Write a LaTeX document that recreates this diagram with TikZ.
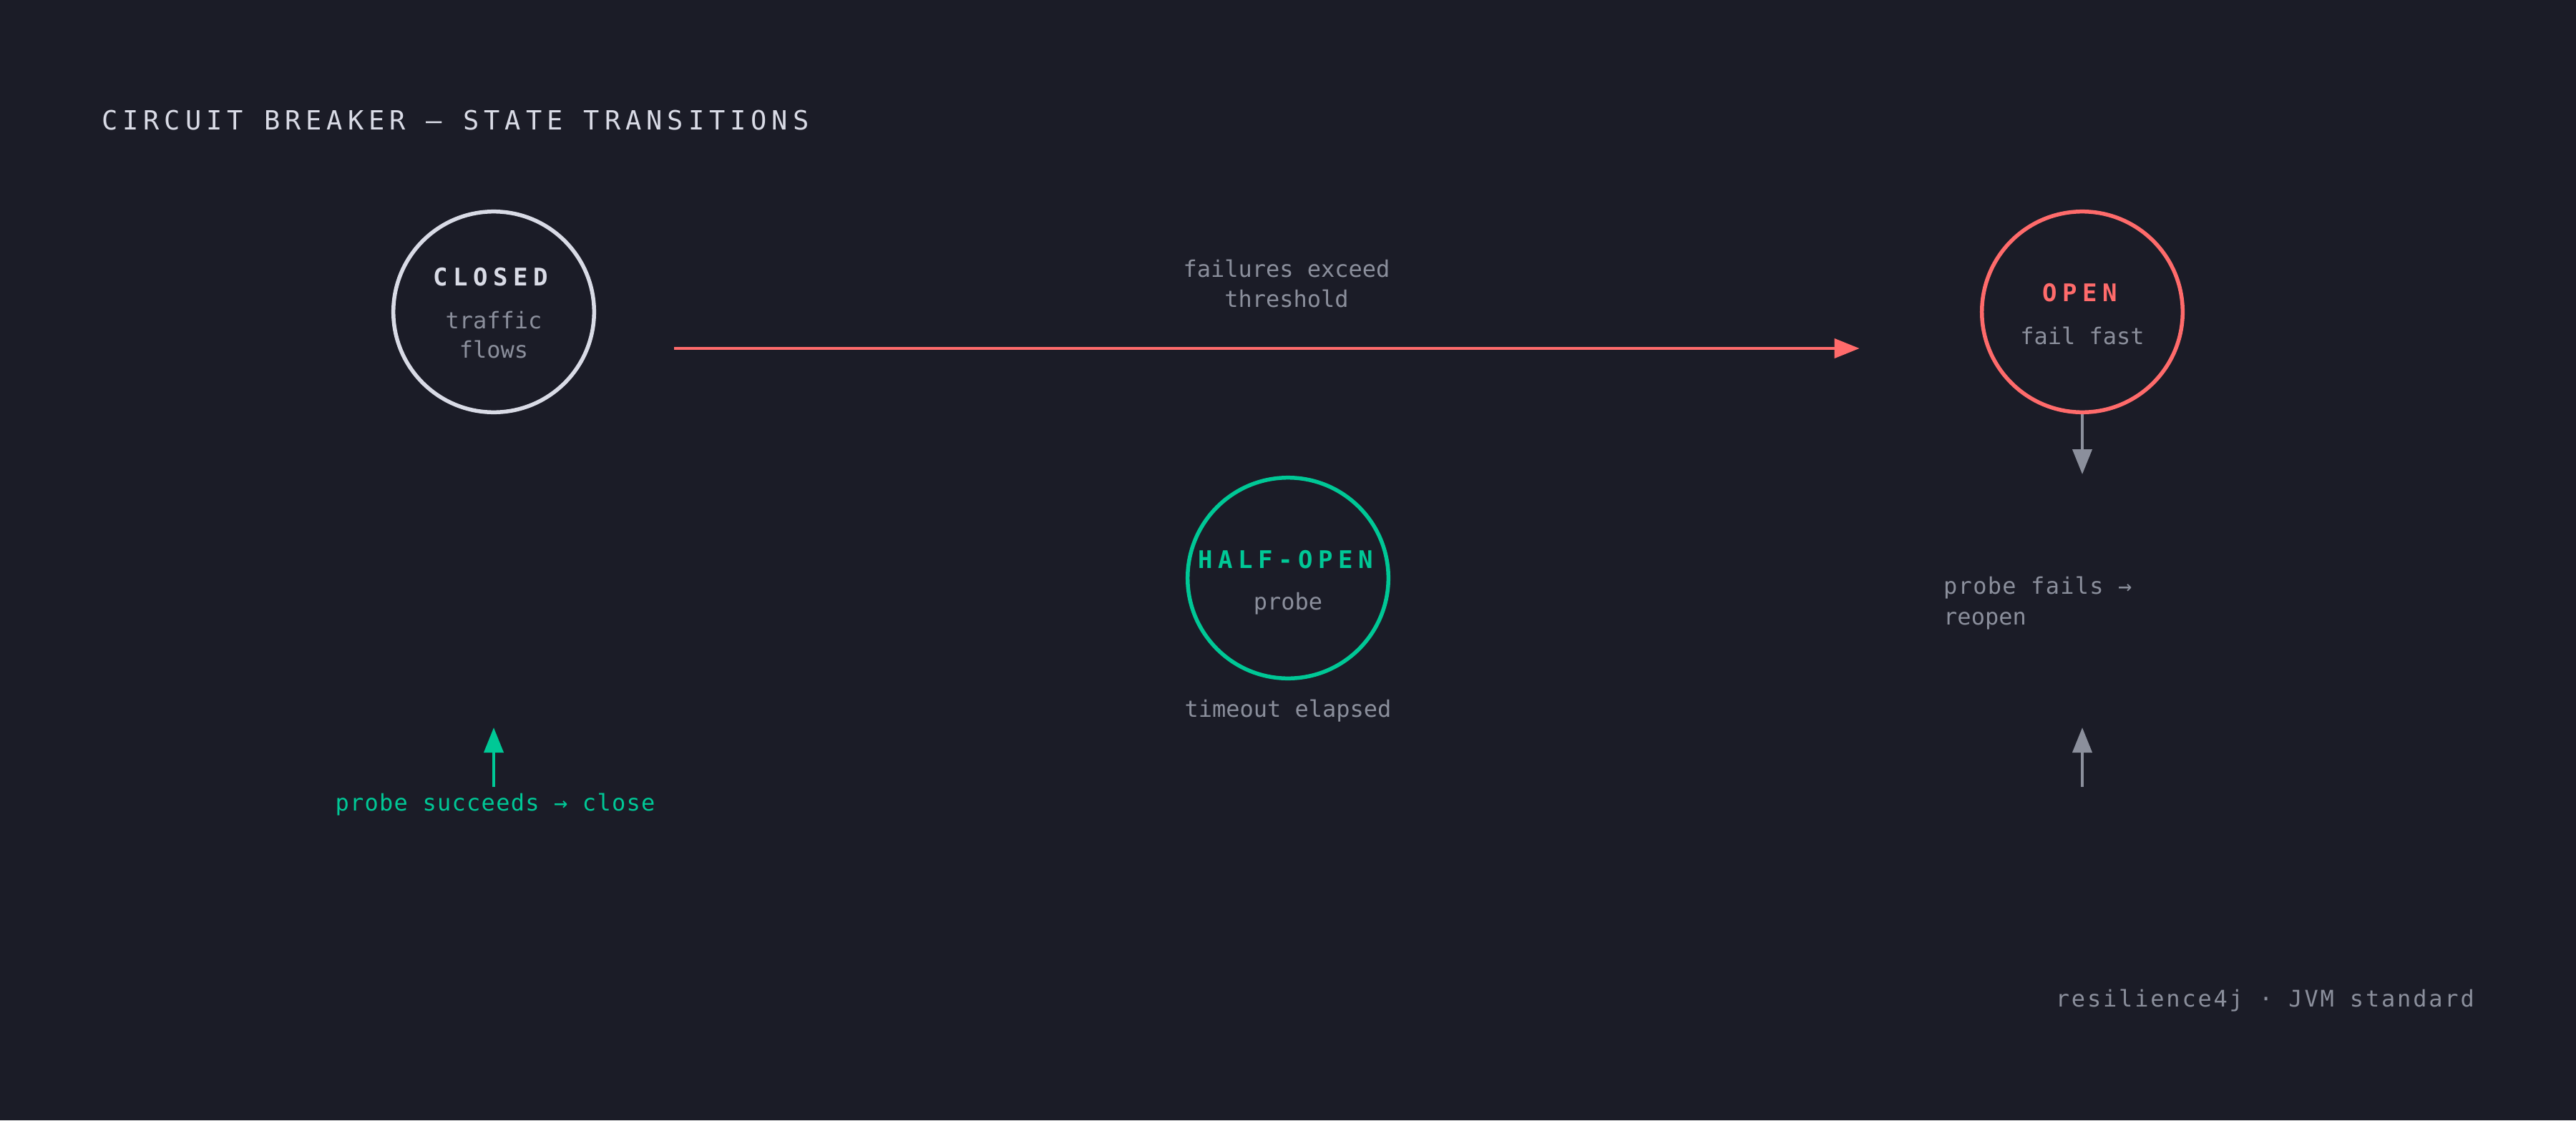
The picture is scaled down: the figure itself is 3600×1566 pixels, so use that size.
\documentclass[tikz,border=0pt]{standalone}
\usepackage{fontspec}
\usetikzlibrary{arrows.meta}
\newfontfamily\monof{DejaVu Sans Mono}
\newfontfamily\monosp[LetterSpace=4]{DejaVu Sans Mono}
\newfontfamily\titlef[LetterSpace=18.8]{DejaVu Sans Mono}
\newfontfamily\labf[LetterSpace=22]{DejaVu Sans Mono}
\newfontfamily\footf[LetterSpace=8.8]{DejaVu Sans Mono}
\definecolor{bg}{HTML}{1B1C27}
\definecolor{lite}{HTML}{D9DBE6}
\definecolor{mute}{HTML}{8B8F9C}
\definecolor{redc}{HTML}{FF6B6B}
\definecolor{grn}{HTML}{00C896}
\tikzset{
  state/.style={circle, draw=#1, line width=5.5pt, minimum size=280.6pt, inner sep=0pt},
  statelab/.style={anchor=base, inner sep=0pt, text=#1, font=\labf\bfseries\fontsize{34}{40}\selectfont},
  small/.style={anchor=base, inner sep=0pt, text=mute, font=\monof\fontsize{32}{42}\selectfont},
  conn/.style={line width=4pt, draw=#1, -{Triangle[length=35pt,width=27pt]}},
}
\begin{document}
\begin{tikzpicture}[x=1pt,y=-1pt]
\fill[bg] (0,0) rectangle (3600,1566);
\useasboundingbox (0,0) rectangle (3600,1566);
% title
\node[anchor=base west, inner sep=0pt, text=lite, font=\titlef\fontsize{37}{44}\selectfont] (title) at (142,181.7) {CIRCUIT BREAKER — STATE TRANSITIONS};
% states
\node[state=lite] (closed) at (690,436) {};
\node[statelab=lite] (closedlab) at (686,399) {CLOSED};
\node[small] (closedsub1) at (690,459) {traffic};
\node[small] (closedsub2) at (690,500) {flows};

\node[state=redc] (open) at (2910,436) {};
\node[statelab=redc] (openlab) at (2907,421.7) {OPEN};
\node[small] (opensub) at (2910,481) {fail fast};

\node[state=grn] (half) at (1800,808) {};
\node[statelab=grn] (halflab) at (1797,794) {HALF-OPEN};
\node[small] (halfsub) at (1800,852) {probe};
\node[small] (timeout) at (1800,1002.7) {timeout elapsed};

% closed -> open
\coordinate (r1) at (942,487);
\coordinate (r2) at (2598.6,487);
\draw[conn=redc] (r1) -- (r2);
\node[small] (fail1) at (1798,387) {failures exceed};
\node[small] (fail2) at (1798,429) {threshold};

% open down arrow
\coordinate (d2) at (2910,663);
\draw[conn=mute] (open.south) -- (d2);

% probe fails
\node[small, anchor=base west, font=\monosp\fontsize{32}{42}\selectfont] (pf1) at (2716,830.6) {probe fails →};
\node[small, anchor=base west] (pf2) at (2716,873) {reopen};
\coordinate (u1) at (2910,1100);
\coordinate (u2) at (2910,1017);
\draw[conn=mute] (u1) -- (u2);

% probe succeeds
\coordinate (g1) at (690,1100);
\coordinate (g2) at (690,1017);
\draw[conn=grn] (g1) -- (g2);
\node[small, text=grn, font=\monosp\fontsize{32}{42}\selectfont] (succ) at (692,1133.3) {probe succeeds → close};

% footer
\node[anchor=base east, inner sep=0pt, text=mute, font=\footf\fontsize{32}{40}\selectfont] (foot) at (3458,1407) {resilience4j · JVM standard};
\end{tikzpicture}
\end{document}
